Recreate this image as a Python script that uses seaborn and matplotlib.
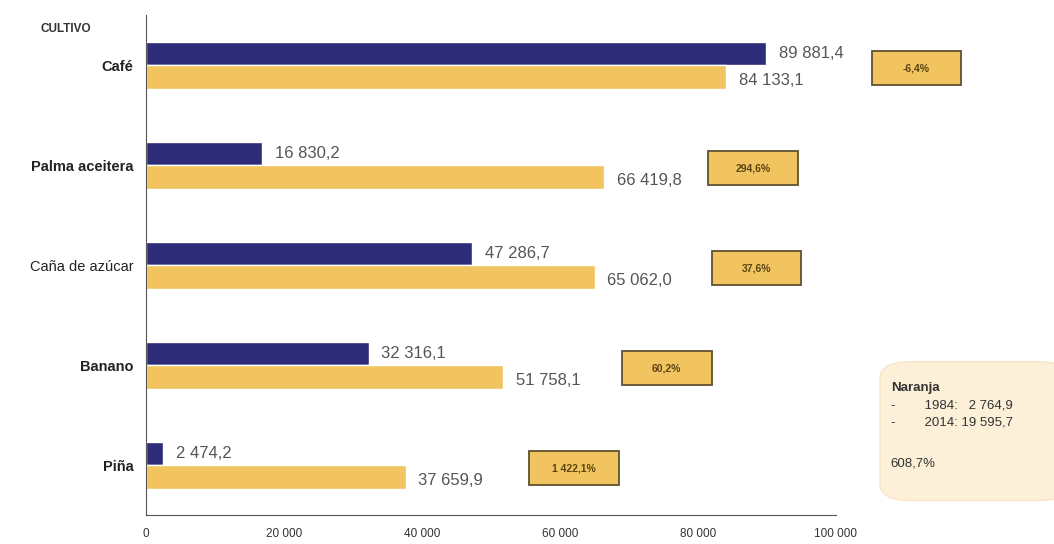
import numpy as np
import pandas as pd
import seaborn as sb
import matplotlib.pyplot as plt
from matplotlib.patches import FancyBboxPatch, Rectangle

cultivos = ['Café', 'Palma aceitera', 'Caña de azúcar', 'Banano', 'Piña']
valores_1984 = [89881.4, 16830.2, 47286.7, 32316.1, 2474.2]
valores_2014 = [84133.1, 66419.8, 65062.0, 51758.1, 37659.9]
cambio = ['-6,4%', '294,6%', '37,6%', '60,2%', '1 422,1%']
box_x = [111700, 88000, 88500, 75500, 62000]
ticks_x = [0, 20000, 40000, 60000, 80000, 100000]

azul = '#2c2c78'
amarillo = '#f2c460'

def fmt(v, dec=1):
    s = f'{v:,.{dec}f}'
    return s.replace(',', ' ').replace('.', ',')

df = pd.DataFrame({
    'cultivo': cultivos * 2,
    'año': ['1984'] * 5 + ['2014'] * 5,
    'valor': valores_1984 + valores_2014,
})

sb.set_style('white')
plt.rcParams['font.family'] = ['Liberation Sans', 'DejaVu Sans']

fig = plt.figure(figsize=(10.54, 5.44), dpi=100)
ax = fig.add_axes([0.1385, 0.0533, 0.6545, 0.919])

sb.barplot(data=df, y='cultivo', x='valor', hue='año', order=cultivos,
           hue_order=['1984', '2014'], palette=[azul, amarillo],
           width=0.47, orient='h', ax=ax, legend=False, saturation=1)

ax.set_xlim(0, 100000)
ax.set_ylim(4.5, -0.5)
ax.set_xlabel('')
ax.set_ylabel('')
ax.set_xticks(ticks_x)
ax.set_xticklabels([fmt(t, 0) for t in ticks_x], fontsize=8.5, color='#333333')
ax.tick_params(axis='x', length=3, width=0.8, color='#777777', pad=9, direction='in')
ax.tick_params(axis='y', length=0, pad=9)
for lab, cul in zip(ax.get_yticklabels(), cultivos):
    lab.set_fontsize(10.5)
    lab.set_color('#222222')
    lab.set_fontweight('normal' if cul == 'Caña de azúcar' else 'bold')

for s in ['top', 'right']:
    ax.spines[s].set_visible(False)
ax.spines['left'].set_color('#555555')
ax.spines['bottom'].set_color('#555555')

bw, bh = 13000, 0.34
for i in range(len(cultivos)):
    ax.annotate(fmt(valores_1984[i]), (valores_1984[i], i - 0.12),
                xytext=(9, 0), textcoords='offset points', va='center',
                fontsize=12, color='#555555')
    ax.annotate(fmt(valores_2014[i]), (valores_2014[i], i + 0.15),
                xytext=(9, 0), textcoords='offset points', va='center',
                fontsize=12, color='#555555')
    ax.add_patch(Rectangle((box_x[i] - bw / 2, i + 0.03 - bh / 2), bw, bh,
                           fc=amarillo, ec='#5e5030', lw=1.3, clip_on=False, zorder=5))
    ax.text(box_x[i], i + 0.03, cambio[i], ha='center', va='center', fontsize=7.5,
            fontweight='bold', color='#5a4410', clip_on=False, zorder=6)

fig.text(0.038, 0.942, 'CULTIVO', fontsize=8.5, fontweight='bold', color='#333333')

caja = FancyBboxPatch((0.835, 0.08), 0.18, 0.255, boxstyle='round,pad=0,rounding_size=0.03',
                      transform=fig.transFigure, fc='#fdf0d8', ec='#f7e6c6', lw=1)
fig.patches.append(caja)
fig.text(0.845, 0.282, 'Naranja', fontsize=9.5, fontweight='bold', color='#333333')
fig.text(0.845, 0.25, '-        1984:   2 764,9', fontsize=9.5, color='#333333')
fig.text(0.845, 0.218, '-        2014: 19 595,7', fontsize=9.5, color='#333333')
fig.text(0.845, 0.143, '608,7%', fontsize=9.5, color='#333333')

fig.savefig('out.png', dpi=100)
